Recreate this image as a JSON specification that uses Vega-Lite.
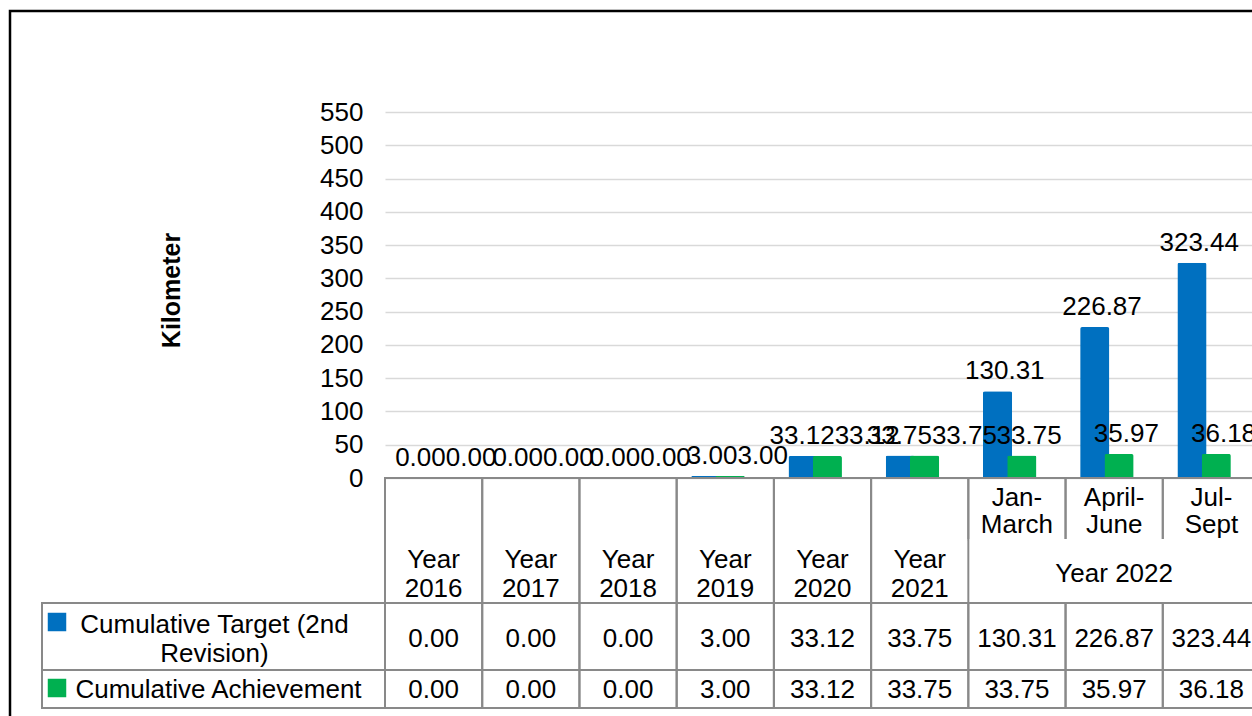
{
  "$schema": "https://vega.github.io/schema/vega-lite/v6.json",
  "width": 1252,
  "height": 715,
  "autosize": "none",
  "padding": {"left": 10, "top": 11, "right": -10, "bottom": -10},
  "background": "white",
  "datasets": {
    "periods": [
      {"period": "Year 2016", "head": "Year\n2016", "sub": null, "target": 0, "achieve": 0},
      {"period": "Year 2017", "head": "Year\n2017", "sub": null, "target": 0, "achieve": 0},
      {"period": "Year 2018", "head": "Year\n2018", "sub": null, "target": 0, "achieve": 0},
      {"period": "Year 2019", "head": "Year\n2019", "sub": null, "target": 3, "achieve": 3},
      {"period": "Year 2020", "head": "Year\n2020", "sub": null, "target": 33.12, "achieve": 33.12},
      {"period": "Year 2021", "head": "Year\n2021", "sub": null, "target": 33.75, "achieve": 33.75},
      {"period": "Jan-March", "head": null, "sub": "Jan-\nMarch", "target": 130.31, "achieve": 33.75},
      {"period": "April-June", "head": null, "sub": "April-\nJune", "target": 226.87, "achieve": 35.97},
      {"period": "Jul-Sept", "head": null, "sub": "Jul-\nSept", "target": 323.44, "achieve": 36.18}
    ],
    "groups": [{"group": "Year 2022", "period": "April-June"}],
    "series": [
      {"key": "target", "label": "Cumulative Target (2nd\nRevision)"},
      {"key": "achieve", "label": "Cumulative Achievement"}
    ]
  },
  "resolve": {
    "scale": {"x": "independent", "y": "independent", "xOffset": "independent"},
    "axis": {"x": "independent", "y": "independent"}
  },
  "layer": [
    {
      "data": {"name": "periods"},
      "transform": [{"fold": ["target", "achieve"]}],
      "mark": {"type": "bar", "width": {"band": 1.2}, "cornerRadiusTopLeft": 2, "cornerRadiusTopRight": 2},
      "encoding": {
        "x": {"field": "period", "type": "nominal", "scale": {"type": "band", "domain": ["Year 2016", "Year 2017", "Year 2018", "Year 2019", "Year 2020", "Year 2021", "Jan-March", "April-June", "Jul-Sept"], "range": [375, 1250], "paddingInner": 0, "paddingOuter": 0}, "axis": null},
        "xOffset": {"field": "key", "type": "nominal", "scale": {"type": "band", "domain": ["target", "achieve"], "paddingInner": 0, "paddingOuter": 1.05}},
        "y": {"field": "value", "type": "quantitative", "scale": {"domain": [0, 550], "range": [467, 101], "nice": false},
          "axis": {"values": [0, 50, 100, 150, 200, 250, 300, 350, 400, 450, 500, 550], "grid": true, "gridColor": "#d9d9d9", "gridWidth": 1.5, "domain": false, "ticks": false, "tickSize": 0, "labelPadding": 22, "labelFontSize": 26, "labelFont": "Liberation Sans", "labelColor": "black", "labelOverlap": false, "offset": -375, "title": "Kilometer", "titleFontSize": 25, "titleFont": "Liberation Sans", "titleFontWeight": "bold", "titleColor": "black", "titleX": -213.5, "titleY": 279, "titleAngle": -90, "titleAlign": "center", "titleBaseline": "middle"}},
        "color": {"field": "key", "type": "nominal", "scale": {"domain": ["target", "achieve"], "range": ["#0070C0", "#00B050"]}, "legend": null}
      }
    },
    {
      "data": {"name": "periods"},
      "transform": [{"fold": ["target", "achieve"]}, {"filter": "abs(datum.target - datum.achieve) >= 20"}],
      "mark": {"type": "text", "baseline": "alphabetic", "dy": -12, "fontSize": 26, "font": "Liberation Sans", "color": "black"},
      "encoding": {
        "x": {"field": "period", "type": "nominal", "scale": {"type": "band", "domain": ["Year 2016", "Year 2017", "Year 2018", "Year 2019", "Year 2020", "Year 2021", "Jan-March", "April-June", "Jul-Sept"], "range": [375, 1250], "paddingInner": 0, "paddingOuter": 0}, "axis": null},
        "xOffset": {"field": "key", "type": "nominal", "scale": {"type": "band", "domain": ["target", "achieve"], "paddingInner": 0, "paddingOuter": 1.05}},
        "y": {"field": "value", "type": "quantitative", "scale": {"domain": [0, 550], "range": [467, 101], "nice": false}, "axis": null},
        "text": {"field": "value", "type": "quantitative", "format": ".2f"}
      }
    },
    {
      "data": {"name": "periods"},
      "transform": [{"fold": ["target", "achieve"]}, {"filter": "abs(datum.target - datum.achieve) < 20 && datum.key == 'target'"}],
      "mark": {"type": "text", "align": "right", "baseline": "alphabetic", "dy": -12, "fontSize": 26, "font": "Liberation Sans", "color": "black"},
      "encoding": {
        "x": {"field": "period", "type": "nominal", "scale": {"type": "band", "domain": ["Year 2016", "Year 2017", "Year 2018", "Year 2019", "Year 2020", "Year 2021", "Jan-March", "April-June", "Jul-Sept"], "range": [375, 1250], "paddingInner": 0, "paddingOuter": 0}, "axis": null},
        "xOffset": {"datum": "achieve", "type": "nominal", "scale": {"type": "band", "domain": ["target", "achieve"], "paddingInner": 0, "paddingOuter": 1.05}},
        "y": {"field": "value", "type": "quantitative", "scale": {"domain": [0, 550], "range": [467, 101], "nice": false}, "axis": null},
        "text": {"field": "value", "type": "quantitative", "format": ".2f"}
      }
    },
    {
      "data": {"name": "periods"},
      "transform": [{"fold": ["target", "achieve"]}, {"filter": "abs(datum.target - datum.achieve) < 20 && datum.key == 'achieve'"}],
      "mark": {"type": "text", "align": "left", "baseline": "alphabetic", "dy": -12, "fontSize": 26, "font": "Liberation Sans", "color": "black"},
      "encoding": {
        "x": {"field": "period", "type": "nominal", "scale": {"type": "band", "domain": ["Year 2016", "Year 2017", "Year 2018", "Year 2019", "Year 2020", "Year 2021", "Jan-March", "April-June", "Jul-Sept"], "range": [375, 1250], "paddingInner": 0, "paddingOuter": 0}, "axis": null},
        "xOffset": {"field": "key", "type": "nominal", "scale": {"type": "band", "domain": ["target", "achieve"], "paddingInner": 0, "paddingOuter": 1.05}},
        "y": {"field": "value", "type": "quantitative", "scale": {"domain": [0, 550], "range": [467, 101], "nice": false}, "axis": null},
        "text": {"field": "value", "type": "quantitative", "format": ".2f"}
      }
    },
    {
      "data": {"name": "periods"},
      "transform": [{"filter": "datum.sub != null"}],
      "mark": {"type": "rect", "fill": "transparent", "stroke": "#898989", "strokeWidth": 2},
      "encoding": {
        "x": {"field": "period", "type": "nominal", "scale": {"type": "band", "domain": ["Year 2016", "Year 2017", "Year 2018", "Year 2019", "Year 2020", "Year 2021", "Jan-March", "April-June", "Jul-Sept"], "range": [375, 1250], "paddingInner": 0, "paddingOuter": 0}, "axis": null},
        "y": {"datum": "r", "type": "nominal", "scale": {"type": "band", "domain": ["r"], "range": [467, 529], "paddingInner": 0, "paddingOuter": 0}, "axis": null}
      }
    },
    {
      "data": {"name": "periods"},
      "transform": [{"filter": "datum.sub != null"}],
      "mark": {"type": "rect", "fill": "white", "stroke": "white", "strokeWidth": 2},
      "encoding": {
        "x": {"field": "period", "type": "nominal", "scale": {"type": "band", "domain": ["Year 2016", "Year 2017", "Year 2018", "Year 2019", "Year 2020", "Year 2021", "Jan-March", "April-June", "Jul-Sept"], "range": [375, 1250], "paddingInner": 0, "paddingOuter": 0}, "axis": null},
        "y": {"datum": "r", "type": "nominal", "scale": {"type": "band", "domain": ["r"], "range": [529, 592], "paddingInner": 0, "paddingOuter": 0}, "axis": null}
      }
    },
    {
      "data": {"name": "periods"},
      "transform": [{"filter": "datum.head != null"}],
      "mark": {"type": "rect", "fill": "transparent", "stroke": "#898989", "strokeWidth": 2},
      "encoding": {
        "x": {"field": "period", "type": "nominal", "scale": {"type": "band", "domain": ["Year 2016", "Year 2017", "Year 2018", "Year 2019", "Year 2020", "Year 2021", "Jan-March", "April-June", "Jul-Sept"], "range": [375, 1250], "paddingInner": 0, "paddingOuter": 0}, "axis": null},
        "y": {"datum": "r", "type": "nominal", "scale": {"type": "band", "domain": ["r"], "range": [467, 592], "paddingInner": 0, "paddingOuter": 0}, "axis": null}
      }
    },
    {
      "data": {"name": "periods"},
      "mark": {"type": "rect", "fill": "transparent", "stroke": "#898989", "strokeWidth": 2},
      "encoding": {
        "x": {"field": "period", "type": "nominal", "scale": {"type": "band", "domain": ["Year 2016", "Year 2017", "Year 2018", "Year 2019", "Year 2020", "Year 2021", "Jan-March", "April-June", "Jul-Sept"], "range": [375, 1250], "paddingInner": 0, "paddingOuter": 0}, "axis": null},
        "y": {"datum": "r", "type": "nominal", "scale": {"type": "band", "domain": ["r"], "range": [592, 659], "paddingInner": 0, "paddingOuter": 0}, "axis": null}
      }
    },
    {
      "data": {"name": "periods"},
      "mark": {"type": "rect", "fill": "transparent", "stroke": "#898989", "strokeWidth": 2},
      "encoding": {
        "x": {"field": "period", "type": "nominal", "scale": {"type": "band", "domain": ["Year 2016", "Year 2017", "Year 2018", "Year 2019", "Year 2020", "Year 2021", "Jan-March", "April-June", "Jul-Sept"], "range": [375, 1250], "paddingInner": 0, "paddingOuter": 0}, "axis": null},
        "y": {"datum": "r", "type": "nominal", "scale": {"type": "band", "domain": ["r"], "range": [659, 697], "paddingInner": 0, "paddingOuter": 0}, "axis": null}
      }
    },
    {
      "data": {"name": "series"},
      "transform": [{"filter": "datum.key == 'target'"}],
      "mark": {"type": "rect", "fill": "transparent", "stroke": "#898989", "strokeWidth": 2},
      "encoding": {
        "x": {"datum": "lg", "type": "nominal", "scale": {"type": "band", "domain": ["lg"], "range": [32, 375], "paddingInner": 0, "paddingOuter": 0}, "axis": null},
        "y": {"datum": "r", "type": "nominal", "scale": {"type": "band", "domain": ["r"], "range": [592, 659], "paddingInner": 0, "paddingOuter": 0}, "axis": null}
      }
    },
    {
      "data": {"name": "series"},
      "transform": [{"filter": "datum.key == 'achieve'"}],
      "mark": {"type": "rect", "fill": "transparent", "stroke": "#898989", "strokeWidth": 2},
      "encoding": {
        "x": {"datum": "lg", "type": "nominal", "scale": {"type": "band", "domain": ["lg"], "range": [32, 375], "paddingInner": 0, "paddingOuter": 0}, "axis": null},
        "y": {"datum": "r", "type": "nominal", "scale": {"type": "band", "domain": ["r"], "range": [659, 697], "paddingInner": 0, "paddingOuter": 0}, "axis": null}
      }
    },
    {
      "data": {"name": "periods"},
      "transform": [{"filter": "datum.sub != null"}],
      "mark": {"type": "text", "lineBreak": "\n", "lineHeight": 27, "dy": -11.5, "fontSize": 26, "font": "Liberation Sans", "color": "black"},
      "encoding": {
        "x": {"field": "period", "type": "nominal", "scale": {"type": "band", "domain": ["Year 2016", "Year 2017", "Year 2018", "Year 2019", "Year 2020", "Year 2021", "Jan-March", "April-June", "Jul-Sept"], "range": [375, 1250], "paddingInner": 0, "paddingOuter": 0}, "axis": null},
        "y": {"datum": "r", "type": "nominal", "scale": {"type": "band", "domain": ["r"], "range": [467, 529], "paddingInner": 0, "paddingOuter": 0}, "axis": null},
        "text": {"field": "sub", "type": "nominal"}
      }
    },
    {
      "data": {"name": "periods"},
      "transform": [{"filter": "datum.head != null"}],
      "mark": {"type": "text", "lineBreak": "\n", "lineHeight": 29, "dy": -11.5, "fontSize": 26, "font": "Liberation Sans", "color": "black"},
      "encoding": {
        "x": {"field": "period", "type": "nominal", "scale": {"type": "band", "domain": ["Year 2016", "Year 2017", "Year 2018", "Year 2019", "Year 2020", "Year 2021", "Jan-March", "April-June", "Jul-Sept"], "range": [375, 1250], "paddingInner": 0, "paddingOuter": 0}, "axis": null},
        "y": {"datum": "r", "type": "nominal", "scale": {"type": "band", "domain": ["r"], "range": [529, 592], "paddingInner": 0, "paddingOuter": 0}, "axis": null},
        "text": {"field": "head", "type": "nominal"}
      }
    },
    {
      "data": {"name": "groups"},
      "mark": {"type": "text", "dy": 2, "fontSize": 26, "font": "Liberation Sans", "color": "black"},
      "encoding": {
        "x": {"field": "period", "type": "nominal", "scale": {"type": "band", "domain": ["Year 2016", "Year 2017", "Year 2018", "Year 2019", "Year 2020", "Year 2021", "Jan-March", "April-June", "Jul-Sept"], "range": [375, 1250], "paddingInner": 0, "paddingOuter": 0}, "axis": null},
        "y": {"datum": "r", "type": "nominal", "scale": {"type": "band", "domain": ["r"], "range": [529, 592], "paddingInner": 0, "paddingOuter": 0}, "axis": null},
        "text": {"field": "group", "type": "nominal"}
      }
    },
    {
      "data": {"name": "periods"},
      "mark": {"type": "text", "dy": 2, "fontSize": 26, "font": "Liberation Sans", "color": "black"},
      "encoding": {
        "x": {"field": "period", "type": "nominal", "scale": {"type": "band", "domain": ["Year 2016", "Year 2017", "Year 2018", "Year 2019", "Year 2020", "Year 2021", "Jan-March", "April-June", "Jul-Sept"], "range": [375, 1250], "paddingInner": 0, "paddingOuter": 0}, "axis": null},
        "y": {"datum": "r", "type": "nominal", "scale": {"type": "band", "domain": ["r"], "range": [592, 659], "paddingInner": 0, "paddingOuter": 0}, "axis": null},
        "text": {"field": "target", "type": "quantitative", "format": ".2f"}
      }
    },
    {
      "data": {"name": "periods"},
      "mark": {"type": "text", "dy": 1, "fontSize": 26, "font": "Liberation Sans", "color": "black"},
      "encoding": {
        "x": {"field": "period", "type": "nominal", "scale": {"type": "band", "domain": ["Year 2016", "Year 2017", "Year 2018", "Year 2019", "Year 2020", "Year 2021", "Jan-March", "April-June", "Jul-Sept"], "range": [375, 1250], "paddingInner": 0, "paddingOuter": 0}, "axis": null},
        "y": {"datum": "r", "type": "nominal", "scale": {"type": "band", "domain": ["r"], "range": [659, 697], "paddingInner": 0, "paddingOuter": 0}, "axis": null},
        "text": {"field": "achieve", "type": "quantitative", "format": ".2f"}
      }
    },
    {
      "data": {"name": "series"},
      "transform": [{"filter": "datum.key == 'target'"}],
      "mark": {"type": "text", "lineBreak": "\n", "lineHeight": 29, "dy": -12, "fontSize": 26, "font": "Liberation Sans", "color": "black"},
      "encoding": {
        "x": {"datum": "lg", "type": "nominal", "scale": {"type": "band", "domain": ["lg"], "range": [34, 375], "paddingInner": 0, "paddingOuter": 0}, "axis": null},
        "y": {"datum": "r", "type": "nominal", "scale": {"type": "band", "domain": ["r"], "range": [592, 659], "paddingInner": 0, "paddingOuter": 0}, "axis": null},
        "text": {"field": "label", "type": "nominal"}
      }
    },
    {
      "data": {"name": "series"},
      "transform": [{"filter": "datum.key == 'achieve'"}],
      "mark": {"type": "text", "dy": 1, "fontSize": 26, "font": "Liberation Sans", "color": "black"},
      "encoding": {
        "x": {"datum": "lg", "type": "nominal", "scale": {"type": "band", "domain": ["lg"], "range": [42, 375], "paddingInner": 0, "paddingOuter": 0}, "axis": null},
        "y": {"datum": "r", "type": "nominal", "scale": {"type": "band", "domain": ["r"], "range": [659, 697], "paddingInner": 0, "paddingOuter": 0}, "axis": null},
        "text": {"field": "label", "type": "nominal"}
      }
    },
    {
      "data": {"name": "series"},
      "mark": {"type": "square", "size": 342, "filled": true, "opacity": 1},
      "encoding": {
        "x": {"datum": "sq", "type": "nominal", "scale": {"type": "band", "domain": ["sq"], "range": [37, 57], "paddingInner": 0, "paddingOuter": 0}, "axis": null},
        "y": {"field": "key", "type": "nominal", "scale": {"type": "band", "domain": ["target", "achieve"], "range": [578, 710], "paddingInner": 0, "paddingOuter": 0}, "axis": null},
        "color": {"field": "key", "type": "nominal", "scale": {"domain": ["target", "achieve"], "range": ["#0070C0", "#00B050"]}, "legend": null}
      }
    }
  ],
  "config": {
    "view": {"stroke": "black", "strokeWidth": 2.5},
    "font": "Liberation Sans"
  }
}
